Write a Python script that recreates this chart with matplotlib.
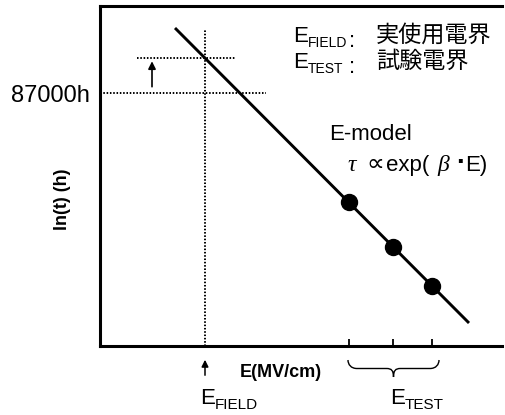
import matplotlib
matplotlib.use("Agg")
import matplotlib.pyplot as plt
from matplotlib.path import Path
from matplotlib.patches import PathPatch

plt.rcParams['font.family'] = ['Liberation Sans', 'Noto Sans CJK JP', 'DejaVu Sans']
plt.rcParams['mathtext.fontset'] = 'custom'
plt.rcParams['mathtext.rm'] = 'Liberation Sans'
plt.rcParams['mathtext.it'] = 'Liberation Serif:italic'

# accelerated test points (E, ln t) and the E-model line through them
e_test = [2.49, 2.93, 3.32]
lnt_test = [1.43, 0.98, 0.60]
model_e = [0.75, 3.69]
model_lnt = [3.175, 0.225]

# operating field and the lifetime levels marked on the left
e_field = 1.05
lnt_field = 2.87
lnt_87000 = 2.52

fig = plt.figure(figsize=(5.06, 4.15), dpi=100)
ax = fig.add_axes([100 / 506, (415 - 345.5) / 415, 402 / 506, 339 / 415])
ax.set_xlim(0, 4.02)
ax.set_ylim(0, 3.39)

for side in ['left', 'top', 'bottom']:
    ax.spines[side].set_linewidth(2.2)
    ax.spines[side].set_capstyle('projecting')
ax.spines['right'].set_visible(False)
ax.set_yticks([])
ax.set_xticks(e_test)
ax.tick_params(axis='x', direction='in', length=5, width=1.3, labelbottom=False)

# model line and measured points
ax.plot(model_e, model_lnt, color='k', lw=2.1, solid_capstyle='butt')
ax.plot(e_test, lnt_test, 'o', color='k', ms=11.5)

# guide lines
dots = dict(color='k', lw=1.4, linestyle=(0, (0.8, 0.9)))
ax.plot([e_field, e_field], [0, 3.165], **dots)
ax.plot([0.37, 1.36], [lnt_field, lnt_field], **dots)
ax.plot([0, 1.66], [lnt_87000, lnt_87000], **dots)

ax.annotate('', xy=(0.52, lnt_field), xytext=(0.52, lnt_87000 + 0.04),
            arrowprops=dict(arrowstyle='-|>', color='k', lw=1.2, mutation_scale=11))
ax.annotate('', xy=(e_field, (345.5 - 357) / 339), xytext=(e_field, (345.5 - 378) / 339),
            xycoords=('data', 'axes fraction'), annotation_clip=False,
            arrowprops=dict(arrowstyle='-|>', color='k', lw=1.1, mutation_scale=10))

# overlay in pixel units for the labels around the frame
ov = fig.add_axes([0, 0, 1, 1])
ov.set_xlim(0, 506)
ov.set_ylim(415, 0)
ov.axis('off')
ov.patch.set_visible(False)

fig.canvas.draw()
renderer = fig.canvas.get_renderer()


def sub_label(x, y, main, sub, size, subsize, drop):
    t = ov.text(x, y, main, fontsize=size, va='baseline', ha='left')
    bb = t.get_window_extent(renderer)
    ov.text(bb.x1, y + drop, sub, fontsize=subsize, va='baseline', ha='left')


ov.text(90, 102, '87000h', fontsize=17, ha='right', va='baseline')
ov.text(62.5, 199, 'ln(t) (h)', fontsize=13, fontweight='bold', rotation=90,
        ha='center', va='center')
ov.text(240, 377, 'E(MV/cm)', fontsize=13, fontweight='bold', ha='left', va='baseline')

sub_label(200, 404, 'E', 'FIELD', 16, 11, 4.5)
sub_label(390, 404, 'E', 'TEST', 16, 11, 4.5)

# legend of symbols
sub_label(293, 42.5, 'E', 'FIELD', 16, 10, 4.5)
ov.text(352, 47, ':', fontsize=16, ha='center', va='baseline')
ov.text(376, 42, '実使用電界', fontsize=16.7, ha='left', va='baseline')
sub_label(293, 68, 'E', 'TEST', 16, 10, 5)
ov.text(352, 73, ':', fontsize=16, ha='center', va='baseline')
ov.text(376, 67.5, '試験電界', fontsize=16.7, ha='left', va='baseline')

# model formula
ov.text(329, 140, 'E-model', fontsize=16, ha='left', va='baseline')
ov.text(347, 171, r'$\tau$', fontsize=17, ha='left', va='baseline')
ov.text(366, 171, '∝', fontsize=18, ha='left', va='baseline', family='DejaVu Sans')
ov.text(386, 171, 'exp(', fontsize=16, ha='left', va='baseline')
ov.text(437, 171, r'$\beta$', fontsize=17, ha='left', va='baseline')
ov.text(460.5, 170, '·', fontsize=20, fontweight='bold', ha='center', va='baseline')
ov.text(465, 171, 'E)', fontsize=16, ha='left', va='baseline')

# brace under the test fields
bx0 = ax.transData.transform((e_test[0], 0))[0] - 1
bx1 = ax.transData.transform((e_test[-1], 0))[0] + 7
mid = (bx0 + bx1) / 2
y0, y1, y2 = 360, 368.5, 377
verts = [(bx0, y0), (bx0, y1 - 4), (bx0 + 3, y1), (bx0 + 9, y1),
         (mid - 7, y1),
         (mid - 2, y1), (mid, y1 + 2), (mid, y2),
         (mid, y1 + 2), (mid + 2, y1), (mid + 7, y1),
         (bx1 - 9, y1),
         (bx1 - 3, y1), (bx1, y1 - 4), (bx1, y0)]
codes = [Path.MOVETO, Path.CURVE4, Path.CURVE4, Path.CURVE4,
         Path.LINETO,
         Path.CURVE4, Path.CURVE4, Path.CURVE4,
         Path.CURVE4, Path.CURVE4, Path.CURVE4,
         Path.LINETO,
         Path.CURVE4, Path.CURVE4, Path.CURVE4]
ov.add_patch(PathPatch(Path(verts, codes), facecolor='none', edgecolor='k', lw=1.0))

fig.savefig('out.png', dpi=100)
